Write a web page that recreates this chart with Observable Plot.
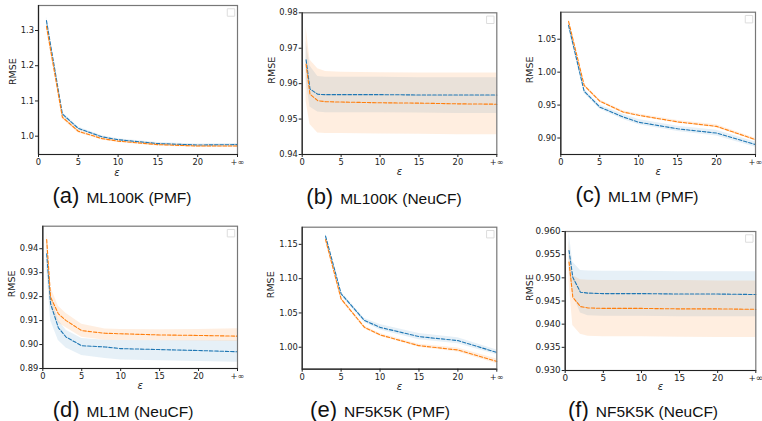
<!DOCTYPE html>
<html>
<head>
<meta charset="utf-8">
<script src="https://cdn.jsdelivr.net/npm/d3@7"></script>
<script src="https://cdn.jsdelivr.net/npm/@observablehq/plot@0.6"></script>
<style>
  html, body { margin: 0; padding: 0; background: white; }
  #root { position: relative; width: 762px; height: 421px; overflow: hidden; background: white; }
  #root svg { position: absolute; max-width: none; overflow: visible; background: transparent; }
  .cap { position: absolute; width: 254px; text-align: center; white-space: nowrap;
         font-family: "Liberation Sans", Arial, sans-serif; color: #111; line-height: 1; font-size: 22px; }
  .cap .lab { font-size: 22px; }
  .cap .txt { font-size: 15.5px; margin-left: 7px; }
</style>
</head>
<body>
<div id="root"></div>
<script>
// ---------- data ----------
const xTicks = [0, 5, 10, 15, 20, 25];           // 25 stands for +∞
const xTickLabels = ["0", "5", "10", "15", "20", "+∞"];
const letters = ["(a)", "(b)", "(c)", "(d)", "(e)", "(f)"];
const titles = ["ML100K (PMF)", "ML100K (NeuCF)", "ML1M (PMF)", "ML1M (NeuCF)", "NF5K5K (PMF)", "NF5K5K (NeuCF)"];

// (a) ML100K PMF
const epsA = [1, 3, 5, 8, 10, 15, 20, 25];
const blueA    = [1.328, 1.063, 1.022, 0.998, 0.990, 0.979, 0.975, 0.976];
const blueLoA  = [1.318, 1.058, 1.018, 0.995, 0.987, 0.976, 0.972, 0.973];
const blueHiA  = [1.338, 1.068, 1.026, 1.001, 0.993, 0.982, 0.978, 0.979];
const orangeA   = [1.312, 1.054, 1.014, 0.993, 0.986, 0.976, 0.972, 0.972];
const orangeLoA = [1.304, 1.049, 1.009, 0.989, 0.982, 0.972, 0.968, 0.968];
const orangeHiA = [1.320, 1.059, 1.019, 0.997, 0.990, 0.980, 0.976, 0.976];
const yTicksA = [1.0, 1.1, 1.2, 1.3];

// (b) ML100K NeuCF
const epsB = [0.5, 1, 2, 3, 5, 10, 15, 20, 25];
const blueB    = [0.9667, 0.9585, 0.9570, 0.9569, 0.9569, 0.9569, 0.9568, 0.9568, 0.9568];
const blueLoB  = [0.9610, 0.9534, 0.9520, 0.9518, 0.9518, 0.9518, 0.9517, 0.9516, 0.9516];
const blueHiB  = [0.9720, 0.9650, 0.9620, 0.9618, 0.9618, 0.9618, 0.9617, 0.9617, 0.9617];
const orangeB   = [0.9655, 0.9570, 0.9552, 0.9549, 0.9548, 0.9546, 0.9545, 0.9543, 0.9542];
const orangeLoB = [0.9550, 0.9485, 0.9461, 0.9459, 0.9459, 0.9458, 0.9457, 0.9456, 0.9456];
const orangeHiB = [0.9760, 0.9667, 0.9642, 0.9634, 0.9632, 0.9631, 0.9630, 0.9630, 0.9630];
const yTicksB = [0.94, 0.95, 0.96, 0.97, 0.98];

// (c) ML1M PMF
const epsC = [1, 3, 5, 8, 10, 15, 20, 25];
const blueC    = [1.071, 0.971, 0.947, 0.932, 0.924, 0.914, 0.9075, 0.890];
const blueLoC  = [1.067, 0.968, 0.944, 0.928, 0.920, 0.910, 0.903, 0.886];
const blueHiC  = [1.075, 0.974, 0.950, 0.936, 0.928, 0.918, 0.912, 0.894];
const orangeC   = [1.077, 0.980, 0.956, 0.9395, 0.9345, 0.9245, 0.9177, 0.8976];
const orangeLoC = [1.075, 0.978, 0.954, 0.9375, 0.9325, 0.9225, 0.9155, 0.8955];
const orangeHiC = [1.079, 0.982, 0.958, 0.9415, 0.9365, 0.9265, 0.9200, 0.8995];
const yTicksC = [0.90, 0.95, 1.00, 1.05];

// (d) ML1M NeuCF
const epsD = [0.5, 1, 2, 3, 5, 8, 10, 15, 20, 25];
const blueD    = [0.9379, 0.9170, 0.9070, 0.9031, 0.8995, 0.8990, 0.8983, 0.8979, 0.8975, 0.8970];
const blueLoD  = [0.9320, 0.9100, 0.9017, 0.8986, 0.8954, 0.8942, 0.8936, 0.8932, 0.8929, 0.8926];
const blueHiD  = [0.9420, 0.9210, 0.9100, 0.9060, 0.9025, 0.9018, 0.9017, 0.9016, 0.9016, 0.9015];
const orangeD   = [0.9438, 0.9198, 0.9128, 0.9100, 0.9058, 0.9047, 0.9045, 0.9040, 0.9038, 0.9035];
const orangeLoD = [0.9410, 0.9160, 0.9090, 0.9070, 0.9030, 0.9018, 0.9017, 0.9016, 0.9015, 0.9013];
const orangeHiD = [0.9470, 0.9240, 0.9160, 0.9130, 0.9085, 0.9065, 0.9063, 0.9062, 0.9063, 0.9066];
const yTicksD = [0.89, 0.90, 0.91, 0.92, 0.93, 0.94];

// (e) NF5K5K PMF
const epsE = [3, 5, 8, 10, 15, 20, 25];
const blueE    = [1.162, 1.078, 1.039, 1.029, 1.0155, 1.0097, 0.9925];
const blueLoE  = [1.159, 1.075, 1.036, 1.025, 1.011, 1.005, 0.989];
const blueHiE  = [1.165, 1.081, 1.042, 1.033, 1.020, 1.014, 0.996];
const orangeE   = [1.157, 1.0705, 1.029, 1.018, 1.0023, 0.996, 0.9794];
const orangeLoE = [1.155, 1.068, 1.027, 1.016, 1.000, 0.993, 0.976];
const orangeHiE = [1.159, 1.073, 1.031, 1.020, 1.0045, 0.999, 0.983];
const yTicksE = [1.00, 1.05, 1.10, 1.15];

// (f) NF5K5K NeuCF
const epsF = [0.5, 1, 2, 3, 5, 10, 15, 20, 25];
const blueF    = [0.9559, 0.9501, 0.9469, 0.9467, 0.9466, 0.9466, 0.9465, 0.9465, 0.9464];
const blueLoF  = [0.9520, 0.9465, 0.9424, 0.9418, 0.9417, 0.9417, 0.9416, 0.9416, 0.9416];
const blueHiF  = [0.9598, 0.9534, 0.9516, 0.9515, 0.9514, 0.9514, 0.9513, 0.9513, 0.9513];
const orangeF   = [0.9534, 0.9458, 0.9438, 0.9435, 0.9434, 0.9434, 0.9433, 0.9433, 0.9432];
const orangeLoF = [0.9490, 0.9397, 0.9378, 0.9374, 0.9373, 0.9373, 0.9372, 0.9371, 0.9371];
const orangeHiF = [0.9580, 0.9505, 0.9496, 0.9495, 0.9494, 0.9494, 0.9494, 0.9493, 0.9493];
const yTicksF = [0.930, 0.935, 0.940, 0.945, 0.950, 0.955, 0.960];

// ---------- layout ----------
const BLUE = "#1f77b4", ORANGE = "#ff7f0e";
const panels = [
  {eps: epsA, b: [blueA, blueLoA, blueHiA], o: [orangeA, orangeLoA, orangeHiA], yTicks: yTicksA, fmt: ".1f",
   dom: [0.948, 1.371], col: 0, row: 0, frame: [38, 5, 237, 154], ylabDx: -26, ylabDy: 5, xlabDx: -21, xlabDy: 21, tickFs: 8.3, capC: 122, capTop: 185},
  {eps: epsB, b: [blueB, blueLoB, blueHiB], o: [orangeB, orangeLoB, orangeHiB], yTicks: yTicksB, fmt: ".2f",
   dom: [0.94, 0.98], col: 1, row: 0, frame: [301.7, 12.3, 496.3, 154], ylabDx: -30.7, ylabDy: 0, xlabDx: 0, xlabDy: 20, tickFs: 8.3, capC: 384, capTop: 186},
  {eps: epsC, b: [blueC, blueLoC, blueHiC], o: [orangeC, orangeLoC, orangeHiC], yTicks: yTicksC, fmt: ".2f",
   dom: [0.875, 1.091], col: 2, row: 0, frame: [560.3, 11.7, 755, 154], ylabDx: -30.6, ylabDy: 0, xlabDx: 0, xlabDy: 20, tickFs: 8.3, capC: 637, capTop: 184},
  {eps: epsD, b: [blueD, blueLoD, blueHiD], o: [orangeD, orangeLoD, orangeHiD], yTicks: yTicksD, fmt: ".2f",
   dom: [0.89, 0.9494], col: 0, row: 1, frame: [42.3, 225.7, 237, 368], ylabDx: -30.6, ylabDy: 0, xlabDx: 0, xlabDy: 20.5, tickFs: 8.3, capC: 123, capTop: 398.5},
  {eps: epsE, b: [blueE, blueLoE, blueHiE], o: [orangeE, orangeLoE, orangeHiE], yTicks: yTicksE, fmt: ".2f",
   dom: [0.968, 1.175], col: 1, row: 1, frame: [301.7, 226.7, 496.3, 368.7], ylabDx: -31, ylabDy: 0, xlabDx: 0, xlabDy: 21, tickFs: 8.3, capC: 380, capTop: 399},
  {eps: epsF, b: [blueF, blueLoF, blueHiF], o: [orangeF, orangeLoF, orangeHiF], yTicks: yTicksF, fmt: ".3f",
   dom: [0.93, 0.96], col: 2, row: 1, frame: [564.7, 231, 755.3, 370], ylabDx: -35, ylabDy: 0, xlabDx: 0, xlabDy: 19, tickFs: 8.8, capC: 643, capTop: 398.5}
];

const root = document.getElementById("root");
const W = 254, H = 190;

panels.forEach((p, k) => {
  const cx = p.col * 254, cy = p.row * 210;
  const [l, t, r, bt] = p.frame;
  const rows = (e, s) => e.map((x, i) => ({eps: x, v: s[0][i], lo: s[1][i], hi: s[2][i]}));
  const bRows = rows(p.eps, p.b), oRows = rows(p.eps, p.o);
  const chart = Plot.plot({
    width: W, height: H,
    marginLeft: l - cx, marginRight: cx + W - r, marginTop: t - cy, marginBottom: cy + H - bt,
    x: {domain: [0, 25]},
    y: {domain: p.dom},
    style: {fontFamily: "DejaVu Sans, sans-serif", fontSize: p.tickFs + "px", color: "#222", background: "transparent"},
    marks: [
      Plot.areaY(bRows, {x: "eps", y1: "lo", y2: "hi", fill: BLUE, fillOpacity: 0.11}),
      Plot.areaY(oRows, {x: "eps", y1: "lo", y2: "hi", fill: ORANGE, fillOpacity: 0.13}),
      Plot.lineY(bRows, {x: "eps", y: "v", stroke: BLUE, strokeWidth: 1.1, strokeDasharray: "3.5,1.8"}),
      Plot.lineY(oRows, {x: "eps", y: "v", stroke: ORANGE, strokeWidth: 1.1, strokeDasharray: "3.5,1.8"}),
      Plot.frame({stroke: "#777", strokeWidth: 1.2}),
      Plot.ruleX([0], {stroke: "#222", strokeWidth: 1.2}),
      Plot.ruleY([p.dom[0]], {stroke: "#222", strokeWidth: 1.2}),
      Plot.dot([0], {frameAnchor: "top-right", dx: -6.5, dy: 7, symbol: "square", r: 4.2, stroke: "#ddd", fill: "white", strokeWidth: 1}),
      Plot.axisX({ticks: xTicks, tickFormat: (d) => xTickLabels[xTicks.indexOf(d)], tickSize: 3, tickPadding: 1.5, label: null}),
      Plot.axisY({ticks: p.yTicks, tickFormat: d3.format(p.fmt), tickSize: 3, tickPadding: 1.5, label: null}),
      Plot.text(["RMSE"], {text: d => d, frameAnchor: "left", rotate: -90, dx: p.ylabDx, dy: p.ylabDy, fontSize: 9.5, fill: "#222"}),
      Plot.text(["ε"], {text: d => d, frameAnchor: "bottom", dx: p.xlabDx, dy: p.xlabDy, fontSize: 10, fontStyle: "italic", fill: "#222"})
    ]
  });
  chart.style.left = cx + "px";
  chart.style.top = cy + "px";
  root.appendChild(chart);

  const cap = document.createElement("div");
  cap.className = "cap";
  cap.style.left = (p.capC - 127) + "px";
  cap.style.top = p.capTop + "px";
  const lab = document.createElement("span"); lab.className = "lab"; lab.textContent = letters[k];
  const txt = document.createElement("span"); txt.className = "txt"; txt.textContent = titles[k];
  cap.appendChild(lab); cap.appendChild(txt);
  root.appendChild(cap);
});
</script>
</body>
</html>
